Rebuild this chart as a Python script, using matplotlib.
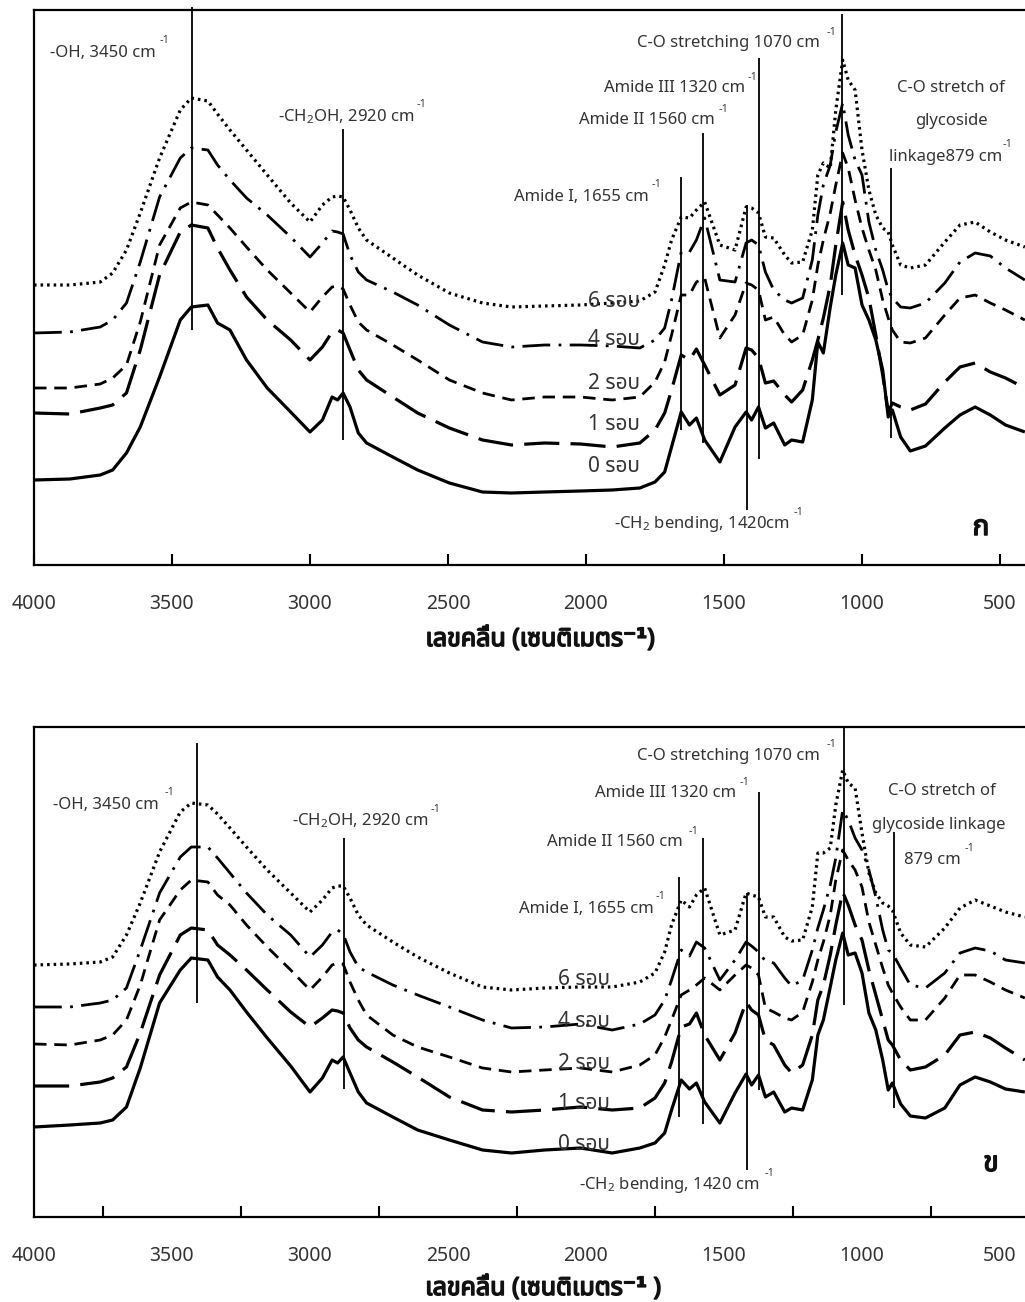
import matplotlib
matplotlib.use("Agg")
import matplotlib.pyplot as plt
import matplotlib.font_manager as fm
from matplotlib import patheffects
from matplotlib.ft2font import FT2Font

# ---------------- data ----------------
wavenumber = [4000, 3870, 3760, 3715, 3665, 3615, 3545, 3470, 3430, 3370,
              3335, 3290, 3230, 3155, 3070, 3000, 2955, 2920, 2900, 2880,
              2855, 2825, 2795, 2700, 2610, 2495, 2375, 2270, 2150, 2020,
              1905, 1805, 1750, 1715, 1690, 1655, 1625, 1600, 1570, 1515,
              1460, 1420, 1400, 1375, 1350, 1320, 1280, 1255, 1215, 1180,
              1160, 1140, 1115, 1095, 1070, 1050, 1025, 1000, 975, 950,
              925, 905, 890, 860, 825, 770, 700, 645, 590, 535, 480, 410]

cycle_labels = ["0 รอบ", "1 รอบ", "2 รอบ", "4 รอบ", "6 รอบ"]

# panel ก (top)
top_0 = [0.85, 0.86, 0.90, 0.95, 1.12, 1.38, 1.88, 2.45, 2.58, 2.60,
         2.42, 2.35, 2.05, 1.77, 1.53, 1.33, 1.45, 1.68, 1.65, 1.72,
         1.58, 1.32, 1.22, 1.08, 0.95, 0.82, 0.73, 0.72, 0.73, 0.74,
         0.75, 0.77, 0.83, 0.93, 1.18, 1.53, 1.40, 1.47, 1.25, 1.03,
         1.38, 1.53, 1.45, 1.58, 1.37, 1.42, 1.20, 1.25, 1.23, 1.65,
         2.23, 2.12, 2.58, 2.90, 3.22, 3.00, 2.97, 2.60, 2.45, 2.25,
         1.95, 1.48, 1.55, 1.28, 1.14, 1.19, 1.37, 1.50, 1.58, 1.50, 1.40, 1.33]
top_1 = [1.52, 1.51, 1.57, 1.60, 1.72, 2.15, 2.90, 3.33, 3.40, 3.37,
         3.17, 2.95, 2.68, 2.45, 2.25, 2.05, 2.18, 2.33, 2.35, 2.32,
         2.15, 1.95, 1.85, 1.68, 1.52, 1.37, 1.25, 1.20, 1.22, 1.21,
         1.18, 1.22, 1.35, 1.52, 1.75, 2.10, 2.05, 2.16, 2.00, 1.70,
         1.80, 2.17, 2.15, 2.07, 1.82, 1.84, 1.70, 1.63, 1.75, 2.05,
         2.25, 2.47, 2.80, 3.20, 3.63, 3.35, 3.10, 2.90, 2.67, 2.30,
         1.90, 1.53, 1.62, 1.58, 1.55, 1.61, 1.83, 1.98, 2.02, 1.93, 1.87, 1.77]
top_2 = [1.77, 1.77, 1.81, 1.87, 2.00, 2.43, 3.20, 3.57, 3.63, 3.60,
         3.50, 3.37, 3.18, 2.95, 2.72, 2.53, 2.68, 2.78, 2.79, 2.76,
         2.60, 2.43, 2.35, 2.20, 2.05, 1.85, 1.72, 1.65, 1.68, 1.68,
         1.65, 1.68, 1.83, 2.03, 2.30, 2.70, 2.70, 2.83, 2.87, 2.27,
         2.50, 2.82, 2.80, 2.75, 2.45, 2.48, 2.30, 2.23, 2.30, 2.65,
         3.00, 3.25, 3.52, 3.80, 4.12, 3.97, 3.65, 3.37, 3.15, 2.95,
         2.65, 2.47, 2.35, 2.23, 2.22, 2.27, 2.50, 2.67, 2.70, 2.62, 2.55, 2.45]
top_4 = [2.32, 2.33, 2.38, 2.45, 2.62, 3.03, 3.68, 4.07, 4.17, 4.15,
         4.00, 3.85, 3.67, 3.50, 3.28, 3.08, 3.22, 3.34, 3.33, 3.31,
         3.10, 2.93, 2.85, 2.73, 2.60, 2.40, 2.23, 2.18, 2.20, 2.20,
         2.19, 2.17, 2.25, 2.37, 2.65, 3.13, 3.13, 3.25, 3.47, 2.85,
         2.83, 3.22, 3.25, 3.20, 2.93, 2.75, 2.65, 2.62, 2.67, 3.05,
         3.50, 3.80, 4.00, 4.33, 4.62, 4.30, 4.05, 3.90, 3.43, 3.15,
         2.95, 2.75, 2.67, 2.58, 2.57, 2.62, 2.82, 3.03, 3.12, 3.09, 2.97, 2.85]
top_6 = [2.80, 2.80, 2.83, 2.92, 3.15, 3.52, 4.07, 4.55, 4.67, 4.64,
         4.51, 4.35, 4.15, 3.90, 3.62, 3.43, 3.60, 3.68, 3.69, 3.68,
         3.55, 3.37, 3.25, 3.07, 2.90, 2.72, 2.62, 2.58, 2.59, 2.60,
         2.62, 2.64, 2.73, 3.00, 3.25, 3.48, 3.47, 3.55, 3.63, 3.20,
         3.15, 3.58, 3.57, 3.52, 3.28, 3.27, 3.10, 3.02, 3.03, 3.35,
         3.90, 4.02, 3.97, 4.55, 5.05, 4.85, 4.75, 4.15, 3.75, 3.50,
         3.37, 3.33, 3.20, 3.00, 2.97, 3.00, 3.23, 3.40, 3.43, 3.33, 3.25, 3.18]

# panel ข (bottom)
bottom_0 = [0.90, 0.92, 0.94, 0.97, 1.10, 1.49, 2.14, 2.47, 2.59, 2.57,
            2.40, 2.27, 2.05, 1.79, 1.51, 1.25, 1.39, 1.57, 1.54, 1.60,
            1.44, 1.25, 1.14, 1.00, 0.87, 0.77, 0.67, 0.64, 0.67, 0.69,
            0.64, 0.69, 0.74, 0.84, 1.07, 1.37, 1.28, 1.34, 1.15, 0.94,
            1.24, 1.43, 1.32, 1.42, 1.20, 1.25, 1.05, 1.09, 1.07, 1.37,
            1.82, 1.97, 2.30, 2.57, 2.84, 2.62, 2.64, 2.44, 2.04, 1.87,
            1.57, 1.27, 1.34, 1.13, 1.01, 0.99, 1.09, 1.32, 1.40, 1.35, 1.28, 1.25]
bottom_1 = [1.31, 1.31, 1.35, 1.39, 1.50, 1.84, 2.42, 2.82, 2.89, 2.87,
            2.72, 2.62, 2.47, 2.27, 2.05, 1.90, 1.99, 2.07, 2.06, 2.04,
            1.89, 1.77, 1.70, 1.55, 1.40, 1.20, 1.07, 1.05, 1.07, 1.10,
            1.07, 1.09, 1.19, 1.34, 1.55, 1.90, 1.93, 2.04, 1.82, 1.57,
            1.84, 2.15, 2.07, 2.02, 1.77, 1.72, 1.52, 1.44, 1.52, 1.82,
            2.17, 2.32, 2.62, 2.92, 3.25, 3.12, 2.92, 2.77, 2.47, 2.22,
            1.97, 1.77, 1.72, 1.57, 1.47, 1.50, 1.62, 1.82, 1.85, 1.79, 1.69, 1.57]
bottom_2 = [1.73, 1.72, 1.77, 1.82, 1.97, 2.32, 2.97, 3.27, 3.37, 3.35,
            3.22, 3.12, 2.92, 2.70, 2.47, 2.27, 2.40, 2.52, 2.54, 2.53,
            2.35, 2.17, 2.02, 1.82, 1.70, 1.60, 1.49, 1.45, 1.47, 1.49,
            1.45, 1.52, 1.62, 1.80, 1.97, 2.22, 2.27, 2.32, 2.39, 2.27,
            2.42, 2.52, 2.49, 2.42, 2.09, 2.05, 1.99, 1.97, 2.05, 2.35,
            2.57, 2.75, 3.02, 3.37, 3.67, 3.57, 3.47, 3.30, 2.95, 2.72,
            2.49, 2.32, 2.24, 2.10, 1.97, 1.97, 2.19, 2.42, 2.42, 2.35, 2.27, 2.19]
bottom_4 = [2.10, 2.10, 2.14, 2.17, 2.29, 2.67, 3.24, 3.60, 3.70, 3.70,
            3.59, 3.44, 3.24, 3.02, 2.82, 2.60, 2.72, 2.85, 2.87, 2.83,
            2.65, 2.50, 2.45, 2.32, 2.22, 2.10, 1.97, 1.89, 1.90, 1.93,
            1.87, 1.93, 2.02, 2.17, 2.37, 2.67, 2.61, 2.75, 2.69, 2.37,
            2.57, 2.75, 2.71, 2.65, 2.56, 2.54, 2.39, 2.31, 2.37, 2.67,
            2.89, 3.07, 3.32, 3.59, 4.07, 3.97, 3.79, 3.67, 3.47, 3.20,
            2.87, 2.67, 2.64, 2.49, 2.32, 2.29, 2.44, 2.64, 2.69, 2.66, 2.57, 2.54]
bottom_6 = [2.52, 2.53, 2.55, 2.60, 2.82, 3.14, 3.65, 4.05, 4.14, 4.12,
            4.03, 3.89, 3.70, 3.47, 3.24, 3.05, 3.17, 3.29, 3.31, 3.31,
            3.19, 3.02, 2.92, 2.75, 2.60, 2.44, 2.30, 2.27, 2.29, 2.30,
            2.30, 2.35, 2.44, 2.65, 2.92, 3.17, 3.10, 3.22, 3.29, 2.82,
            2.87, 3.24, 3.22, 3.20, 3.00, 3.00, 2.80, 2.76, 2.77, 3.10,
            3.64, 3.64, 3.69, 4.12, 4.47, 4.34, 4.29, 3.84, 3.44, 3.24,
            3.14, 3.11, 3.07, 2.84, 2.72, 2.70, 2.89, 3.09, 3.17, 3.11, 3.05, 3.00]

# band marker lines: position (cm-1) and vertical extent
top_band_wn = [3428, 2880, 1656, 1576, 1417, 1373, 1072, 895]
top_band_lo = [2.35, 1.25, 1.35, 1.22, 0.55, 1.06, 2.70, 1.27]
top_band_hi = [5.58, 4.36, 3.88, 4.32, 3.60, 5.07, 5.51, 3.97]
bottom_band_wn = [3409, 2877, 1663, 1576, 1417, 1373, 1065, 884]
bottom_band_lo = [2.14, 1.28, 1.00, 0.93, 0.47, 1.27, 2.12, 1.09]
bottom_band_hi = [4.74, 3.79, 3.40, 3.79, 3.24, 4.25, 4.89, 3.85]

tick_values = [4000, 3500, 3000, 2500, 2000, 1500, 1000, 500]
bottom_minor_ticks = [3750, 3250, 2750, 2250, 1750, 1250, 750, 500]

# ---------------- fonts ----------------
def _has(path, chars):
    try:
        cm = FT2Font(path).get_charmap()
        return all(ord(c) in cm for c in chars)
    except Exception:
        return False

_pref = ["Noto Sans Thai", "Noto Sans Thai UI", "Sarabun", "TH Sarabun New", "Loma",
         "Garuda", "Waree", "Umpush", "Kinnari", "Norasi", "Laksaman", "Tlwg Typo"]
_found = []
_bold_available = {}
for _fe in fm.fontManager.ttflist:
    if _has(_fe.fname, "รอบเลขคลื่นกข"):
        if _fe.name not in _found:
            _found.append(_fe.name)
        w = _fe.weight
        if isinstance(w, str):
            w = fm.weight_dict.get(w, 400)
        if w >= 600:
            _bold_available[_fe.name] = True
THAI = None
for _p in _pref:
    if _p in _found:
        THAI = _p
        break
if THAI is None and _found:
    THAI = _found[0]
thai_family = ([THAI] if THAI else []) + ["DejaVu Sans"]
thai_has_bold = bool(THAI and _bold_available.get(THAI))
LATIN = ["Noto Sans", "DejaVu Sans"]

plt.rcParams["font.family"] = LATIN
plt.rcParams["mathtext.fontset"] = "custom"
plt.rcParams["mathtext.rm"] = "Noto Sans"
plt.rcParams["mathtext.it"] = "Noto Sans"

TXT = "#333333"
W, H = 1025, 1302
fig = plt.figure(figsize=(W / 100, H / 100), dpi=100)


def fx(px):
    return px / W


def fy(py):
    return 1 - py / H


def put(x, y, s, size=12, ha="left", family=None, bold=False, color=TXT):
    t = fig.text(fx(x), fy(y), s, ha=ha, va="baseline", fontsize=size,
                 color=color, family=family or LATIN,
                 weight="bold" if bold else "normal")
    if bold and not thai_has_bold:
        t.set_path_effects([patheffects.withStroke(linewidth=1.1, foreground=color)])
    return t


styles = [
    dict(linestyle="-", lw=2.3),
    dict(linestyle=(0, (11, 3.5)), lw=2.3),
    dict(linestyle=(0, (4.5, 2.8)), lw=2.0),
    dict(linestyle=(0, (10, 3, 1, 3)), lw=2.0),
    dict(linestyle=(0, (0.8, 1.25)), lw=2.3),
]

x_right = 4000 - (W - 34) * 500 / 138.0


def make_panel(top_px, bottom_px, series, bands, minor):
    ax = fig.add_axes([fx(34), fy(bottom_px), (W - 34) / W, (bottom_px - top_px) / H])
    ax.set_xlim(4000, x_right)
    ax.set_ylim(0, (bottom_px - top_px) / 100.0)
    for vals, st in zip(series, styles):
        ax.plot(wavenumber, vals, color="black", solid_capstyle="butt",
                solid_joinstyle="round", **st)
    wn, lo, hi = bands
    ax.vlines(wn, lo, hi, color="black", lw=1.3, clip_on=False)
    ax.spines["right"].set_visible(False)
    for sp in ("left", "bottom", "top"):
        ax.spines[sp].set_linewidth(1.6)
    ax.set_yticks([])
    ax.set_xticks(tick_values)
    ax.set_xticklabels([str(v) for v in tick_values])
    if minor:
        ax.tick_params(axis="x", which="major", length=0, pad=21,
                       labelsize=14, labelcolor=TXT)
        ax.set_xticks(bottom_minor_ticks, minor=True)
        ax.tick_params(axis="x", which="minor", direction="in", length=8, width=1.5)
    else:
        ax.tick_params(axis="x", which="major", direction="in", length=8, width=1.5,
                       pad=21, labelsize=14, labelcolor=TXT)
    for lab in ax.get_xticklabels():
        lab.set_family(LATIN)
    return ax


ax1 = make_panel(10, 565, [top_0, top_1, top_2, top_4, top_6],
                 (top_band_wn, top_band_lo, top_band_hi), False)
ax2 = make_panel(727, 1217, [bottom_0, bottom_1, bottom_2, bottom_4, bottom_6],
                 (bottom_band_wn, bottom_band_lo, bottom_band_hi), True)

# ---------------- top panel texts ----------------
put(50, 57, "-OH, 3450 cm")
put(160, 43, "-1", size=8)
put(278, 121, "-CH$_2$OH, 2920 cm")
put(417, 107, "-1", size=8)
put(649, 201, "Amide I, 1655 cm", ha="right")
put(652, 187, "-1", size=8)
put(579, 124, "Amide II 1560 cm")
put(719, 112, "-1", size=8)
put(604, 92, "Amide III 1320 cm")
put(748, 80, "-1", size=8)
put(637, 47, "C-O stretching 1070 cm")
put(827, 35, "-1", size=8)
put(951, 92, "C-O stretch of", ha="center")
put(951, 125, "glycoside", ha="center")
put(889, 161, "linkage879 cm")
put(1003, 147, "-1", size=8)
put(614, 528, "-CH$_2$ bending, 1420cm")
put(794, 515, "-1", size=8)
put(981, 535, "ก", size=20, ha="center", family=thai_family, bold=True, color="#111111")
for lab, yb in zip(cycle_labels, [472, 430, 389, 345, 307]):
    put(640, yb, lab, size=15, ha="right", family=thai_family)
put(540, 646, "เลขคลื่น (เซนติเมตร⁻¹)", size=18, ha="center",
    family=thai_family, bold=True, color="#111111")

# ---------------- bottom panel texts ----------------
put(53, 809, "-OH, 3450 cm")
put(165, 795, "-1", size=8)
put(292, 825, "-CH$_2$OH, 2920 cm")
put(431, 812, "-1", size=8)
put(654, 913, "Amide I, 1655 cm", ha="right")
put(656, 899, "-1", size=8)
put(547, 846, "Amide II 1560 cm")
put(689, 834, "-1", size=8)
put(595, 797, "Amide III 1320 cm")
put(740, 785, "-1", size=8)
put(637, 760, "C-O stretching 1070 cm")
put(827, 747, "-1", size=8)
put(942, 795, "C-O stretch of", ha="center")
put(939, 829, "glycoside linkage", ha="center")
put(904, 864, "879 cm")
put(965, 851, "-1", size=8)
put(579, 1189, "-CH$_2$ bending, 1420 cm")
put(765, 1176, "-1", size=8)
put(991, 1171, "ข", size=20, ha="center", family=thai_family, bold=True, color="#111111")
for lab, yb in zip(cycle_labels, [1150, 1109, 1069, 1027, 985]):
    put(610, yb, lab, size=15, ha="right", family=thai_family)
put(543, 1295, "เลขคลื่น (เซนติเมตร⁻¹ )", size=18, ha="center",
    family=thai_family, bold=True, color="#111111")

fig.savefig("out.png", dpi=100)
